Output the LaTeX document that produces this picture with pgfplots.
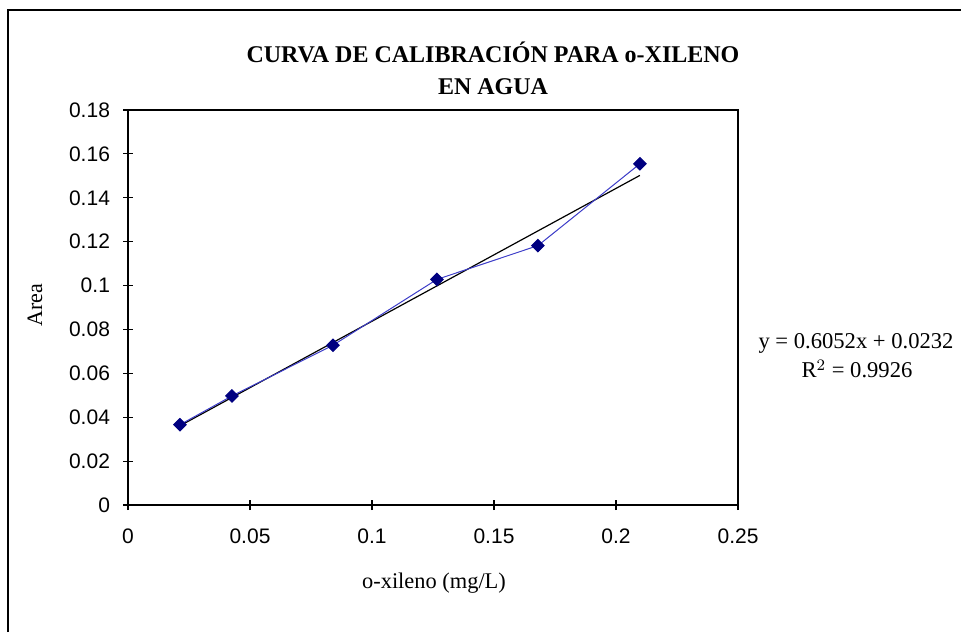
\documentclass[border=0pt]{standalone}
\usepackage{pgfplots}
\pgfplotsset{compat=1.18}
\usepackage{fontspec}
\setmainfont{Liberation Serif}
\setsansfont{Liberation Sans}
\definecolor{marknavy}{RGB}{0,0,128}
\definecolor{lineblue}{RGB}{60,60,200}
\begin{document}
\begin{tikzpicture}
\begin{scope}[x=0.5pt,y=-0.5pt,shift={(0,-632)}]
\useasboundingbox (0,0) rectangle (961,632);
\draw[line width=1pt] (8,632) -- (8,10) -- (961,10);
\node[font=\bfseries\fontsize{12}{14}\selectfont] at (493,52) {CURVA DE CALIBRACIÓN PARA o-XILENO};
\node[font=\bfseries\fontsize{12}{14}\selectfont] at (493,87) {EN AGUA};
\node[font=\fontsize{11}{13}\selectfont, rotate=90] at (35,305) {Area};
\node[font=\fontsize{11.2}{13}\selectfont] at (434,583) {o-xileno (mg/L)};
\node[font=\fontsize{11.3}{13}\selectfont] at (856,343) {y = 0.6052x + 0.0232};
\node[font=\fontsize{11.3}{13}\selectfont] at (857,369) {R$^2$ = 0.9926};
\end{scope}
\begin{axis}[
  at={(64pt,63.5pt)}, anchor=south west,
  scale only axis, width=305pt, height=197.5pt,
  xmin=0, xmax=0.25, ymin=0, ymax=0.18,
  xtick={0,0.05,0.1,0.15,0.2,0.25},
  ytick={0,0.02,0.04,0.06,0.08,0.1,0.12,0.14,0.16,0.18},
  tick pos=left,
  tick align=center, major tick length=5pt,
  tick style={black, line width=0.6pt},
  axis line style={line width=0.8pt},
  ticklabel style={font=\sffamily\fontsize{10.5}{12}\selectfont},
  /pgf/number format/assume math mode=true,
  /pgf/number format/fixed, /pgf/number format/precision=2,
  xticklabel style={yshift=-6pt},
  yticklabel style={xshift=-3pt},
  scaled ticks=false,
]
\addplot[black, line width=0.6pt] coordinates {(0.0213,0.0361) (0.2098,0.1502)};
\addplot[lineblue, line width=0.5pt, mark=square*, mark size=2.2pt, mark options={rotate=45, fill=marknavy, draw=marknavy}] coordinates {
(0.0213,0.0366) (0.0426,0.0497) (0.0840,0.0728) (0.1266,0.1028) (0.1680,0.1182) (0.2098,0.1555)};
\end{axis}
\end{tikzpicture}
\end{document}
